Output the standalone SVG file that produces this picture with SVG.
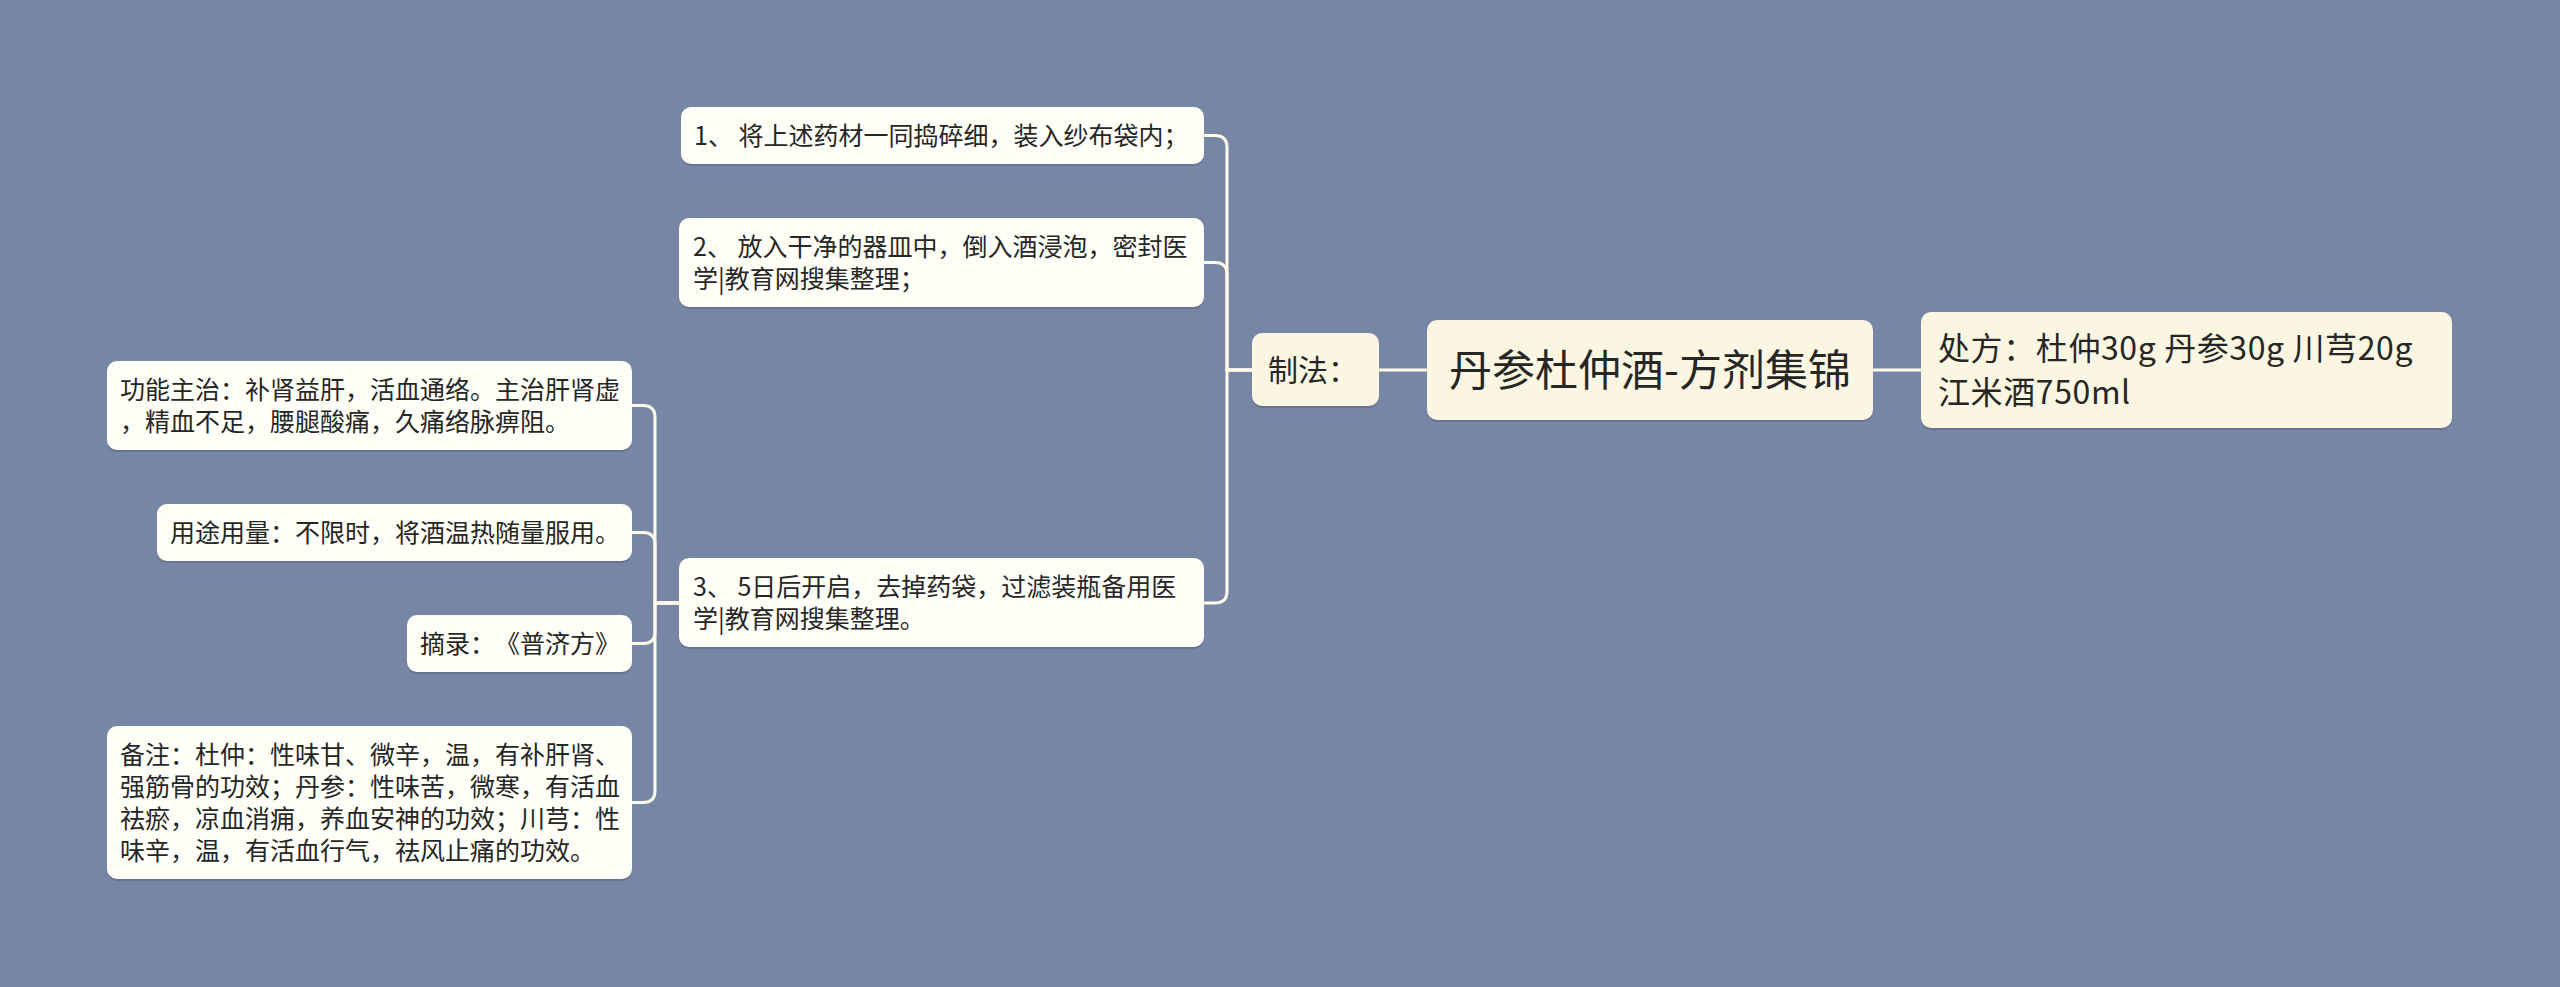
<svg xmlns="http://www.w3.org/2000/svg" width="2560" height="987" viewBox="0 0 2560 987">
<defs>
<style>
.bg{fill:#7886a5}
.shadow{fill:#5d6886;opacity:0.6}
.main{fill:#faf6e1}
.leaf{fill:#fffef7}
.link{fill:none;stroke:#fffbe8;stroke-width:3;stroke-linecap:round}
text{font-family:"Noto Sans CJK SC","Noto Sans",sans-serif;fill:#262626;text-spacing-trim:space-all}
.t25{font-size:25px}
.t30{font-size:30px}
.t32{font-size:32px;letter-spacing:0.6px}
.t43{font-size:43px}
</style>
</defs>
<rect class="bg" x="0" y="0" width="2560" height="987"/>

<g id="connectors">
<path class="link" d="M1427,370 H1379"/>
<path class="link" d="M1873,370 H1921"/>
<path class="link" d="M1252,370 H1227 V147.5 Q1227,135.5 1215,135.5 H1204"/>
<path class="link" d="M1252,370 H1227 V274.5 Q1227,262.5 1215,262.5 H1204"/>
<path class="link" d="M1252,370 H1227 V591 Q1227,603 1215,603 H1204"/>
<path class="link" d="M679,603 H655 V417.5 Q655,405.5 643,405.5 H632"/>
<path class="link" d="M679,603 H655 V544.5 Q655,532.5 643,532.5 H632"/>
<path class="link" d="M679,603 H655 V631.5 Q655,643.5 643,643.5 H632"/>
<path class="link" d="M679,603 H655 V790.5 Q655,802.5 643,802.5 H632"/>
</g>

<g id="root">
<rect class="shadow" x="1427" y="322" width="446" height="100" rx="10"/>
<rect class="main" x="1427" y="320" width="446" height="100" rx="10"/>
<text class="t43" x="1650" y="386" text-anchor="middle">丹参杜仲酒-方剂集锦</text>
</g>

<g id="recipe">
<rect class="shadow" x="1921" y="314" width="531" height="116" rx="10"/>
<rect class="main" x="1921" y="312" width="531" height="116" rx="10"/>
<text class="t32" x="1938" y="360"><tspan x="1938" y="360">处方：杜仲30g 丹参30g 川芎20g</tspan><tspan x="1938" y="404">江米酒750ml</tspan></text>
</g>

<g id="method">
<rect class="shadow" x="1252" y="335" width="127" height="73" rx="10"/>
<rect class="main" x="1252" y="333" width="127" height="73" rx="10"/>
<text class="t30" x="1268" y="381">制法：</text>
</g>

<g id="step1">
<rect class="shadow" x="681" y="109" width="523" height="57" rx="10"/>
<rect class="leaf" x="681" y="107" width="523" height="57" rx="10"/>
<text class="t25" x="694" y="144.5">1、 将上述药材一同捣碎细，装入纱布袋内；</text>
</g>

<g id="step2">
<rect class="shadow" x="679" y="220" width="525" height="89" rx="10"/>
<rect class="leaf" x="679" y="218" width="525" height="89" rx="10"/>
<text class="t25" x="693" y="255.5"><tspan x="693" y="255.5">2、 放入干净的器皿中，倒入酒浸泡，密封医</tspan><tspan x="693" y="287.5">学|教育网搜集整理；</tspan></text>
</g>

<g id="step3">
<rect class="shadow" x="679" y="560" width="525" height="89" rx="10"/>
<rect class="leaf" x="679" y="558" width="525" height="89" rx="10"/>
<text class="t25" x="693" y="596"><tspan x="693" y="596">3、 5日后开启，去掉药袋，过滤装瓶备用医</tspan><tspan x="693" y="628">学|教育网搜集整理。</tspan></text>
</g>

<g id="function">
<rect class="shadow" x="107" y="363" width="525" height="89" rx="10"/>
<rect class="leaf" x="107" y="361" width="525" height="89" rx="10"/>
<text class="t25" x="120" y="398.5"><tspan x="120" y="398.5">功能主治：补肾益肝，活血通络。主治肝肾虚</tspan><tspan x="120" y="430.5">，精血不足，腰腿酸痛，久痛络脉痹阻。</tspan></text>
</g>

<g id="usage">
<rect class="shadow" x="157" y="506" width="475" height="57" rx="10"/>
<rect class="leaf" x="157" y="504" width="475" height="57" rx="10"/>
<text class="t25" x="170" y="541.5">用途用量：不限时，将酒温热随量服用。</text>
</g>

<g id="source">
<rect class="shadow" x="407" y="617" width="225" height="57" rx="10"/>
<rect class="leaf" x="407" y="615" width="225" height="57" rx="10"/>
<text class="t25" x="420" y="652.5">摘录：《普济方》</text>
</g>

<g id="note">
<rect class="shadow" x="107" y="728" width="525" height="153" rx="10"/>
<rect class="leaf" x="107" y="726" width="525" height="153" rx="10"/>
<text class="t25" x="120" y="763.5"><tspan x="120" y="763.5">备注：杜仲：性味甘、微辛，温，有补肝肾、</tspan><tspan x="120" y="795.5">强筋骨的功效；丹参：性味苦，微寒，有活血</tspan><tspan x="120" y="827.5">祛瘀，凉血消痈，养血安神的功效；川芎：性</tspan><tspan x="120" y="859.5">味辛，温，有活血行气，祛风止痛的功效。</tspan></text>
</g>
</svg>
